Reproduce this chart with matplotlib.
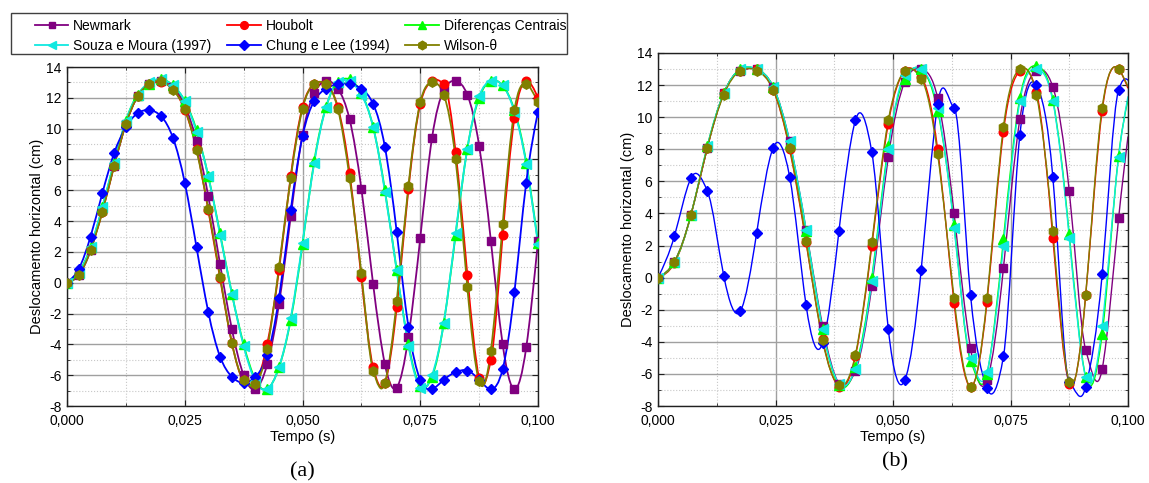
import numpy as np
import matplotlib
matplotlib.use('Agg')
import matplotlib.pyplot as plt
from matplotlib.path import Path
from matplotlib.patches import PathPatch, Rectangle
from matplotlib.lines import Line2D
from matplotlib.ticker import FuncFormatter

plt.rcParams['font.family'] = ['Liberation Sans', 'DejaVu Sans']
plt.rcParams['axes.unicode_minus'] = False

# (a) pontos a cada 2,5 ms
t_a = np.linspace(0, 0.1, 41)
newmark_a = [0.0, 0.5, 2.1, 4.7, 7.6, 10.3, 12.1, 12.9, 13.1, 12.7, 11.5, 9.2, 5.6, 1.2, -3.0, -6.0, -6.9, -5.3, -1.4, 4.3,
             9.6, 12.3, 13.1, 12.6, 10.6, 6.1, -0.1, -5.3, -6.8, -3.5, 2.9, 9.4, 12.5, 13.1, 12.2, 8.9, 2.7, -4.0, -6.9, -4.2, 2.7]
houbolt_a = [0.0, 0.55, 2.2, 4.6, 7.6, 10.3, 12.1, 12.9, 13.0, 12.6, 11.2, 8.7, 4.7, 0.3, -3.9, -6.3, -6.5, -4.0, 0.8, 6.9,
             11.4, 12.9, 12.9, 11.4, 7.1, 0.35, -5.5, -6.5, -1.6, 6.1, 11.6, 13.1, 12.9, 8.5, 0.5, -6.2, -5.0, 3.1, 10.7, 13.1, 12.0]
difcentrais_a = [0.0, 0.7, 2.3, 4.9, 7.8, 10.5, 12.2, 12.9, 13.2, 12.8, 11.8, 9.9, 6.9, 3.2, -0.7, -4.0, -6.3, -6.9, -5.5, -2.4,
                 2.5, 7.9, 11.4, 13.0, 13.2, 12.3, 10.1, 6.0, 0.8, -4.0, -6.7, -6.1, -2.6, 3.1, 8.7, 12.0, 13.1, 12.8, 11.2, 7.8, 2.6]
souza_a = [0.0, 0.6, 2.3, 4.9, 7.8, 10.5, 12.2, 13.0, 13.2, 12.8, 11.8, 9.8, 6.9, 3.1, -0.7, -4.1, -6.4, -6.9, -5.5, -2.3,
           2.6, 7.8, 11.4, 13.0, 13.1, 12.2, 10.1, 5.9, 0.8, -4.1, -6.8, -6.0, -2.6, 3.2, 8.7, 12.1, 13.1, 12.8, 11.1, 7.7, 2.5]
chung_a = [0.0, 0.9, 3.0, 5.8, 8.4, 10.1, 11.0, 11.2, 10.8, 9.4, 6.5, 2.3, -1.9, -4.8, -6.1, -6.5, -6.1, -4.7, -1.0, 4.7,
           9.5, 11.8, 12.6, 12.9, 12.9, 12.6, 11.6, 8.8, 3.3, -2.9, -6.3, -6.9, -6.3, -5.8, -5.7, -6.3, -6.9, -5.6, -0.6, 6.5, 11.1]
wilson_a = [0.0, 0.5, 2.1, 4.6, 7.6, 10.3, 12.1, 12.9, 13.1, 12.5, 11.3, 8.6, 4.8, 0.4, -3.9, -6.3, -6.6, -4.3, 1.0, 6.8,
            11.3, 12.9, 12.9, 11.3, 6.8, 0.6, -5.7, -6.5, -1.2, 6.3, 11.7, 13.0, 12.2, 8.0, -0.3, -6.4, -4.4, 3.8, 11.2, 12.9, 11.7]

# (b) pontos a cada 3,5 ms, mais o valor final da curva em 0,100 s
t_b = np.linspace(0, 0.098, 29)
t_fim_b = 0.1
newmark_b = [0.0, 1.0, 3.9, 8.1, 11.5, 12.9, 13.0, 11.9, 8.5, 3.0, -3.0, -6.6, -5.8, -0.5, 7.5,
             12.2, 13.0, 11.2, 4.0, -4.4, -6.4, 0.6, 9.9, 12.9, 11.9, 5.4, -4.5, -5.7, 3.7]
houbolt_b = [0.0, 0.9, 3.9, 8.1, 11.5, 12.9, 13.0, 11.7, 8.0, 2.2, -3.8, -6.8, -4.9, 2.0, 9.6,
             12.9, 12.5, 8.0, -1.6, -6.8, -1.5, 9.1, 12.9, 11.6, 2.5, -6.6, -1.1, 10.4, 13.0]
difcentrais_b = [0.0, 0.95, 3.9, 8.2, 11.5, 13.0, 13.0, 11.9, 8.4, 2.9, -3.2, -6.7, -5.6, 0.0, 8.2,
                 12.4, 13.0, 10.4, 3.3, -5.2, -6.0, 2.4, 11.2, 13.2, 11.1, 2.7, -6.2, -3.5, 7.6]
souza_b = [0.0, 1.0, 3.9, 8.2, 11.5, 13.0, 13.0, 11.9, 8.5, 3.0, -3.2, -6.6, -5.7, -0.2, 8.0,
           12.6, 13.0, 10.6, 3.1, -5.0, -5.9, 2.0, 11.0, 13.0, 11.0, 2.5, -6.2, -3.0, 7.5]
chung_b = [0.0, 2.6, 6.2, 5.4, 0.1, -2.1, 2.8, 8.1, 6.3, -1.7, -4.1, 2.9, 9.8, 7.8, -3.2,
           -6.4, 0.5, 10.8, 10.6, -1.1, -6.9, -4.9, 8.9, 12.0, 6.3, -6.5, -6.8, 0.2, 11.7]
wilson_b = [0.0, 1.0, 3.9, 8.1, 11.4, 12.9, 12.9, 11.7, 8.1, 2.3, -3.9, -6.7, -4.8, 2.2, 9.8,
            12.9, 12.4, 7.7, -1.3, -6.8, -1.3, 9.4, 13.0, 11.4, 2.9, -6.5, -1.06, 10.6, 13.0]
fim_b = [8.8, 11.8, 11.1, 11.3, 12.3, 11.9]

nomes = ['Newmark', 'Houbolt', 'Diferenças Centrais', 'Souza e Moura (1997)', 'Chung e Lee (1994)', 'Wilson-θ']
cores = ['#800080', '#ff0000', '#00ff00', '#10e8e0', '#0000ff', '#808000']
marcadores = ['s', 'o', '^', '<', 'D', 'h']
tamanhos = [5.6, 6.2, 6.6, 6.6, 5.6, 6.8]

series_a = [newmark_a, houbolt_a, difcentrais_a, souza_a, chung_a, wilson_a]
series_b = [newmark_b, houbolt_b, difcentrais_b, souza_b, chung_b, wilson_b]


def curva_suave(x, y):
    # spline cubica natural pelos pontos (derivadas limitadas onde a curva e monotona),
    # desenhada como curvas de Bezier
    x = np.asarray(x, float)
    y = np.asarray(y, float)
    n = len(x)
    h = np.diff(x)
    A = np.zeros((n, n))
    r = np.zeros(n)
    A[0, 0] = A[-1, -1] = 1.0
    for i in range(1, n - 1):
        A[i, i - 1] = h[i - 1]
        A[i, i] = 2 * (h[i - 1] + h[i])
        A[i, i + 1] = h[i]
        r[i] = 6 * ((y[i + 1] - y[i]) / h[i] - (y[i] - y[i - 1]) / h[i - 1])
    M = np.linalg.solve(A, r)
    d = np.diff(y) / h
    m = np.empty(n)
    m[:-1] = d - h * (2 * M[:-1] + M[1:]) / 6
    m[-1] = d[-1] + h[-1] * (M[-2] + 2 * M[-1]) / 6
    for i in range(1, n - 1):
        a, b = d[i - 1], d[i]
        if a * b > 0:
            lim = 3 * min(abs(a), abs(b))
            m[i] = np.clip(m[i], 0, lim) if a > 0 else np.clip(m[i], -lim, 0)
    verts = [(x[0], y[0])]
    codes = [Path.MOVETO]
    for i in range(n - 1):
        verts += [(x[i] + h[i] / 3, y[i] + m[i] * h[i] / 3),
                  (x[i + 1] - h[i] / 3, y[i + 1] - m[i + 1] * h[i] / 3),
                  (x[i + 1], y[i + 1])]
        codes += [Path.CURVE4] * 3
    return Path(verts, codes)


def formata_eixo(ax):
    ax.set_xlim(0, 0.1)
    ax.set_ylim(-8, 14)
    ax.set_xticks(np.arange(0, 0.1001, 0.025))
    ax.set_xticks(np.arange(0, 0.1001, 0.0125), minor=True)
    ax.set_yticks(np.arange(-8, 15, 2))
    ax.set_yticks(np.arange(-8, 15, 1), minor=True)
    ax.xaxis.set_major_formatter(FuncFormatter(lambda v, p: f'{v:.3f}'.replace('.', ',')))
    ax.yaxis.set_major_formatter(FuncFormatter(lambda v, p: f'{v:.0f}'))
    ax.grid(which='major', color='#a0a0a0', lw=1.0, ls='-')
    ax.grid(which='minor', color='#c8c8c8', lw=0.8, ls=':')
    ax.set_axisbelow(True)
    ax.tick_params(which='both', direction='in', top=True, right=True, labelsize=10, colors='#202020',
                   labelcolor='black')
    ax.tick_params(which='major', length=4)
    ax.tick_params(axis='x', which='major', pad=6)
    ax.tick_params(axis='y', which='major', pad=4)
    ax.tick_params(which='minor', length=2)
    for s in ax.spines.values():
        s.set_color('#202020')
        s.set_linewidth(1.0)
    ax.set_xlabel('Tempo (s)', fontsize=10.5, labelpad=1)
    ax.set_ylabel('Deslocamento horizontal (cm)', fontsize=10.5, labelpad=1.5)


fig = plt.figure(figsize=(11.49, 4.83), dpi=100)
ax_a = fig.add_axes([67 / 1149, 77 / 483, 471 / 1149, 339 / 483])
ax_b = fig.add_axes([658 / 1149, 77 / 483, 470 / 1149, 353 / 483])

for i, y in enumerate(series_a):
    ax_a.add_patch(PathPatch(curva_suave(t_a, y), fill=False, edgecolor=cores[i], lw=1.3, zorder=2))
    ax_a.plot(t_a, y, ls='none', marker=marcadores[i], ms=tamanhos[i], color=cores[i], zorder=3)

for i, y in enumerate(series_b):
    ax_b.add_patch(PathPatch(curva_suave(np.append(t_b, t_fim_b), np.append(y, fim_b[i])),
                             fill=False, edgecolor=cores[i], lw=1.0, zorder=2))
    ax_b.plot(t_b, y, ls='none', marker=marcadores[i], ms=tamanhos[i], color=cores[i], zorder=3)

formata_eixo(ax_a)
formata_eixo(ax_b)

# legenda em 3 colunas, preenchida por linhas
ordem = [0, 3, 1, 4, 2, 5]
handles = [Line2D([], [], color=cores[i], marker=marcadores[i], ms=tamanhos[i] - 0.6, lw=1.3) for i in ordem]
fig.legend(handles, [nomes[i] for i in ordem], ncol=3, loc='upper left',
           bbox_to_anchor=(35 / 1149, 0.0, (566 - 35) / 1149, 1 - 19 / 483), mode='expand',
           frameon=False, borderpad=0, borderaxespad=0, fontsize=10, handlelength=2.4,
           handletextpad=0.35, labelspacing=0.42, columnspacing=0.3)
fig.patches.append(Rectangle((10.7 / 1149, 1 - 54 / 483), 556 / 1149, 41.3 / 483,
                             transform=fig.transFigure, fill=False, edgecolor='#404040', lw=1.0))

fig.text(302 / 1149, 1 - 472 / 483, '(a)', ha='center', va='center', family='Liberation Serif', fontsize=16)
fig.text(895 / 1149, 1 - 462 / 483, '(b)', ha='center', va='center', family='Liberation Serif', fontsize=16)

fig.savefig('out.png', dpi=100)
